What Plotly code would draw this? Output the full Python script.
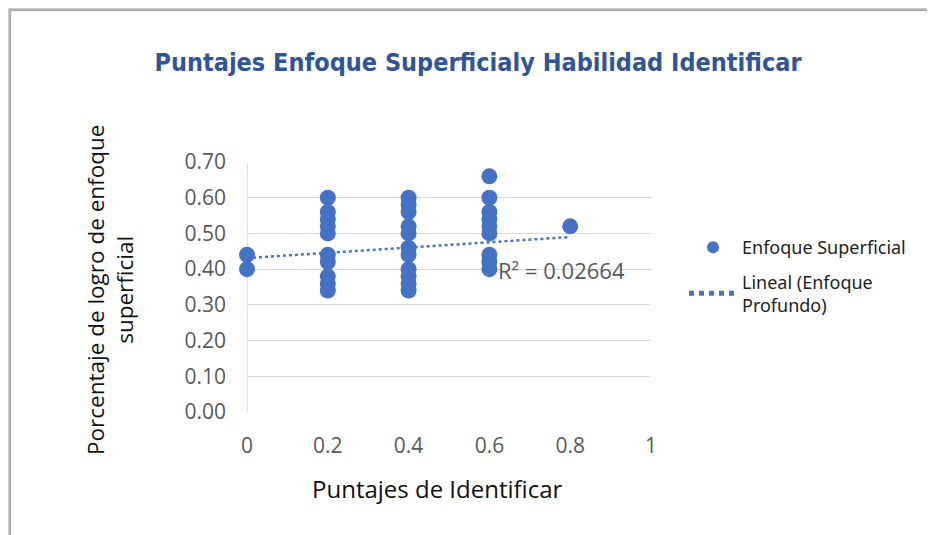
import plotly.graph_objects as go

# Data
x_vals = [0, 0,
          0.2, 0.2, 0.2, 0.2, 0.2, 0.2, 0.2, 0.2, 0.2, 0.2,
          0.4, 0.4, 0.4, 0.4, 0.4, 0.4, 0.4, 0.4, 0.4, 0.4, 0.4,
          0.6, 0.6, 0.6, 0.6, 0.6, 0.6, 0.6, 0.6, 0.6,
          0.8]
y_vals = [0.44, 0.40,
          0.60, 0.56, 0.54, 0.52, 0.50, 0.44, 0.42, 0.38, 0.36, 0.34,
          0.60, 0.58, 0.56, 0.52, 0.50, 0.46, 0.44, 0.40, 0.38, 0.36, 0.34,
          0.66, 0.60, 0.56, 0.54, 0.52, 0.50, 0.44, 0.42, 0.40,
          0.52]
trend_x = [0, 0.8]
trend_y = [0.431, 0.490]
x_ticks = [0, 0.2, 0.4, 0.6, 0.8, 1]
x_tick_labels = ["0", "0.2", "0.4", "0.6", "0.8", "1"]
y_ticks = [0, 0.1, 0.2, 0.3, 0.4, 0.5, 0.6, 0.7]
y_tick_labels = ["0.00", "0.10", "0.20", "0.30", "0.40", "0.50", "0.60", "0.70"]

# page body has an 8px margin; the figure is placed at (8, 8) in the window
OFF = 8
W, H = 935 - OFF, 535 - OFF
L, T = 247 - OFF, 162 - OFF
R, B = W - (651 - OFF), H - (412 - OFF)
pw, ph = W - L - R, H - T - B

def px(p):  # window pixel -> paper x
    return (p - OFF - L) / pw

def py(p):  # window pixel -> paper y
    return (H - B - (p - OFF)) / ph

blue = "#4472C4"
gray = "#595959"

fig = go.Figure()
fig.add_trace(go.Scatter(
    x=x_vals, y=y_vals, mode="markers", name="Enfoque Superficial",
    marker=dict(color=blue, size=16), cliponaxis=False, legendgroup="a",
))
fig.add_trace(go.Scatter(
    x=trend_x, y=trend_y, mode="lines", name="Lineal (Enfoque<br>Profundo)",
    line=dict(color=blue, width=2.5, dash="dot"), cliponaxis=False,
    showlegend=False, legendgroup="b",
))
# legend entry for the trendline (thinner dotted sample, as in the reference)
fig.add_trace(go.Scatter(
    x=[None], y=[None], mode="lines", name="Lineal (Enfoque<br>Profundo)",
    line=dict(color=blue, width=1.5, dash="dot"), legendgroup="b",
))

# Shadowed frame (top and left edges)
shapes = []
shades = ["#e2e2e2", "#cfcfcf", "#bdbdbd", "#ababab", "#9c9c9c"]
for i, c in enumerate(shades):
    yy = py(7 + i * 0.9)
    xx = px(7 + i * 0.9)
    shapes.append(dict(type="line", xref="paper", yref="paper",
                       x0=xx, x1=px(940), y0=yy, y1=yy,
                       line=dict(color=c, width=1)))
    shapes.append(dict(type="line", xref="paper", yref="paper",
                       x0=xx, x1=xx, y0=yy, y1=py(540),
                       line=dict(color=c, width=1)))
shapes.append(dict(type="line", xref="x", yref="paper", x0=0, x1=0, y0=0, y1=1,
                   layer="below", line=dict(color="#d9d9d9", width=1.5)))

fig.update_layout(
    width=W, height=H,
    margin=dict(l=L, r=R, t=T, b=B, autoexpand=False),
    paper_bgcolor="white", plot_bgcolor="white",
    showlegend=True,
    title=dict(text="<b>Puntajes Enfoque Superficialy Habilidad Identificar</b>",
               xref="container", yref="container",
               x=(478 - OFF) / W, xanchor="center", y=1 - (62 - OFF) / H, yanchor="middle",
               font=dict(family="DejaVu Sans Condensed, DejaVu Sans", size=25, color="#2F5597")),
    xaxis=dict(range=[0, 1], tickvals=x_ticks, ticktext=x_tick_labels,
               showgrid=False, zeroline=False, showline=False, automargin=False,
               ticks="", ticklabelstandoff=19,
               tickfont=dict(family="Open Sans", size=21, color=gray)),
    yaxis=dict(range=[0, 0.7], tickvals=y_ticks, ticktext=y_tick_labels,
               showgrid=True, gridcolor="#d9d9d9", gridwidth=1, automargin=False,
               zeroline=False, showline=False, ticks="", ticklabelstandoff=20,
               tickfont=dict(family="Open Sans", size=21, color=gray)),
    legend=dict(x=px(684), y=py(229), xanchor="left", yanchor="top",
                font=dict(family="Noto Sans", size=18, color="#222222"),
                bgcolor="rgba(0,0,0,0)", tracegroupgap=8, itemsizing="constant",
                itemwidth=48),
    shapes=shapes,
    annotations=[
        dict(text="R² = 0.02664", x=px(496), y=py(270), xref="paper", yref="paper",
             xanchor="left", yanchor="middle", showarrow=False,
             font=dict(family="Open Sans", size=22, color=gray)),
        dict(text="Puntajes de Identificar", x=px(437), y=py(488), xref="paper", yref="paper",
             xanchor="center", yanchor="middle", showarrow=False,
             font=dict(family="Open Sans", size=24, color="#111111")),
        dict(text="Porcentaje de logro de enfoque<br>superficial", x=px(110), y=py(290),
             xref="paper", yref="paper", textangle=-90,
             xanchor="center", yanchor="middle", showarrow=False,
             font=dict(family="Open Sans", size=22.5, color="#111111")),
    ],
)

fig.write_html("out.html")
